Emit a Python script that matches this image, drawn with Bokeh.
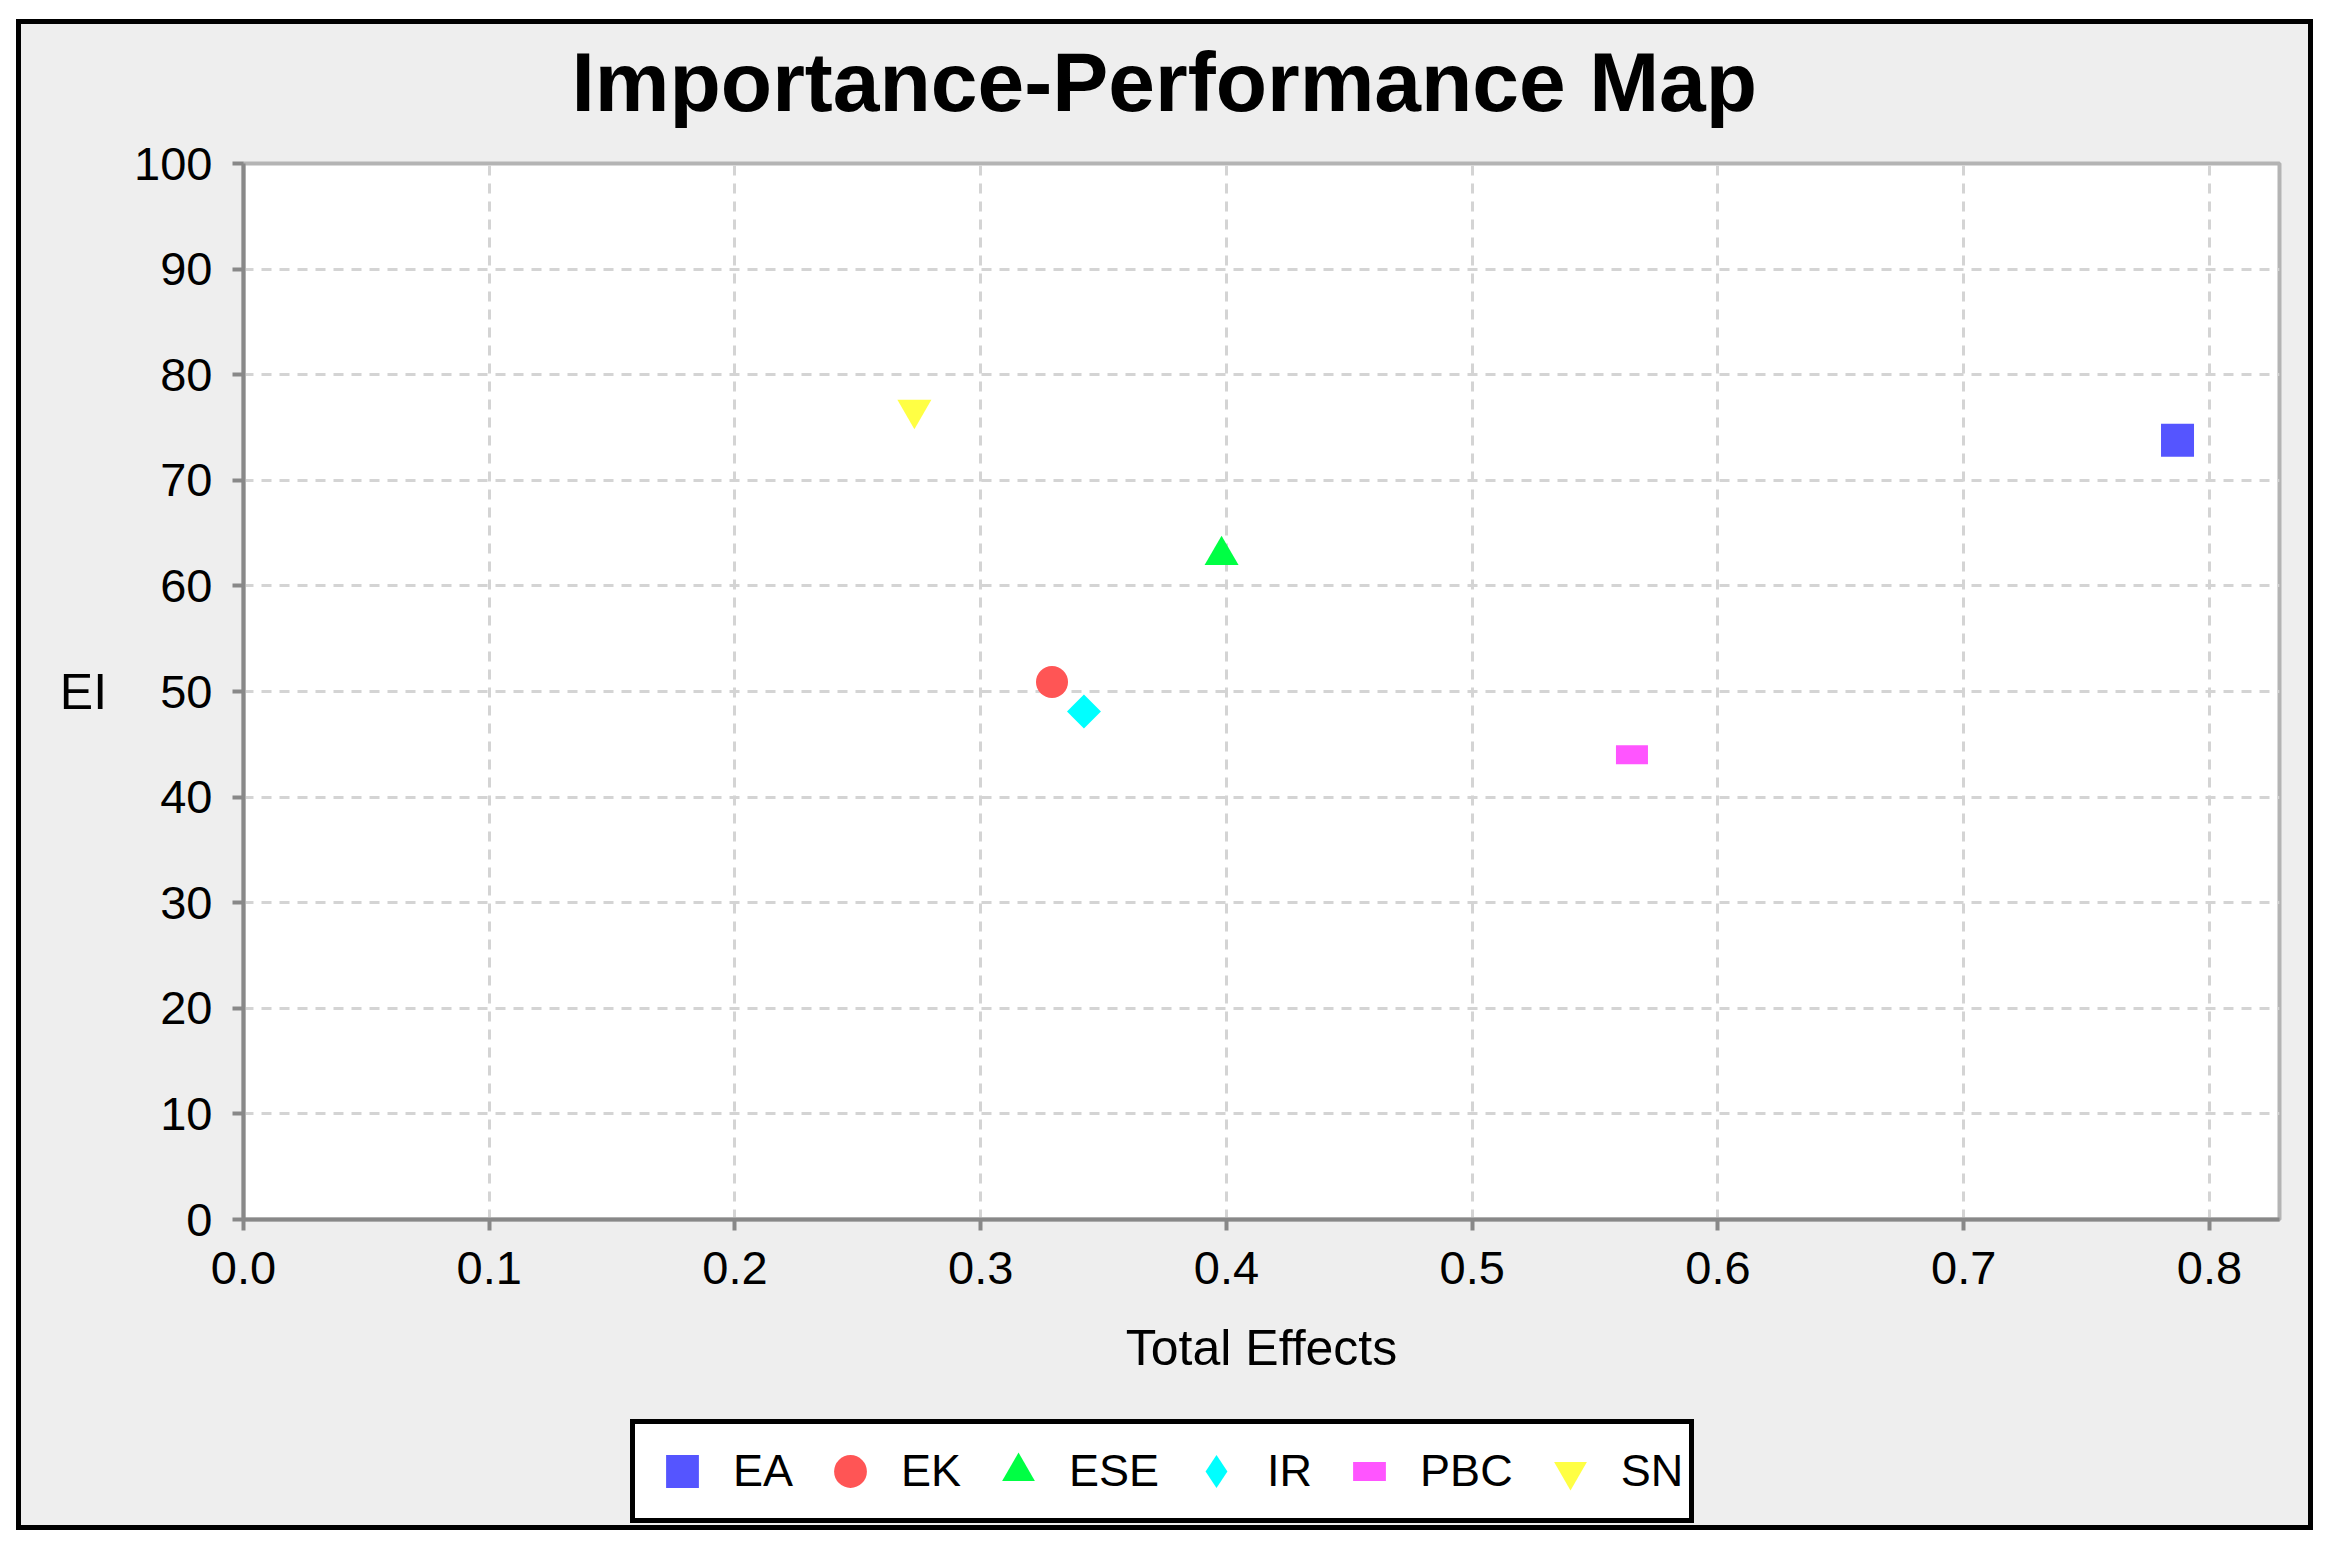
import math
from bokeh.plotting import figure
from bokeh.layouts import column
from bokeh.models import Range1d, FixedTicker, PrintfTickFormatter, Legend, LegendItem, Title
from bokeh.embed import file_html
from bokeh.resources import INLINE

# ---- data ----
categories = ["EA", "EK", "ESE", "IR", "PBC", "SN"]
total_effects = [0.787, 0.329, 0.398, 0.342, 0.565, 0.273]
performance = [73.8, 50.9, 62.9, 48.1, 44.0, 76.7]
x_ticks = [0.0, 0.1, 0.2, 0.3, 0.4, 0.5, 0.6, 0.7, 0.8]
y_ticks = [0, 10, 20, 30, 40, 50, 60, 70, 80, 90, 100]
title_text = "Importance-Performance Map"
x_label = "Total Effects"
y_label = "EI"

colors = ["#5555FF", "#FF5555", "#00FF44", "#00FFFF", "#FF55FF", "#FFFF44"]
FONT = "Liberation Sans"
BG = "#EEEEEE"
W = 2287
BL, BR = 222, 29
H_MAIN, H_LEG = 1385, 116

# ---------------- main chart ----------------
p = figure(width=W, height=H_MAIN, output_backend="svg", toolbar_location=None,
           x_range=Range1d(0, 0.8285), y_range=Range1d(0, 100),
           min_border_left=BL, min_border_right=BR, min_border_top=139,
           min_border_bottom=H_MAIN - 139 - 1056, title=None)
p.border_fill_color = BG
p.background_fill_color = "white"
p.outline_line_color = "#B4B4B4"
p.outline_line_width = 4

# spacer next to the frame, then the title above it
p.add_layout(Title(text=" ", text_font=FONT, text_font_size="30px", standoff=0), "above")
p.add_layout(Title(text=title_text, text_font=FONT, text_font_size="84px", text_font_style="bold",
                   text_color="black", align="left", offset=328, standoff=0), "above")

for ax in (p.xaxis[0], p.yaxis[0]):
    ax.axis_line_color = "#888888"
    ax.axis_line_width = 4
    ax.major_tick_line_color = "#888888"
    ax.major_tick_line_width = 4
    ax.major_tick_out = 11
    ax.major_tick_in = 0
    ax.minor_tick_line_color = None
    ax.major_label_text_font = FONT
    ax.major_label_text_font_size = "47px"
    ax.major_label_text_color = "black"
    ax.axis_label_text_font = FONT
    ax.axis_label_text_font_size = "50px"
    ax.axis_label_text_font_style = "normal"
    ax.axis_label_text_color = "black"

p.xaxis.ticker = FixedTicker(ticks=x_ticks)
p.yaxis.ticker = FixedTicker(ticks=y_ticks)
p.xaxis.formatter = PrintfTickFormatter(format="%.1f")
p.yaxis.formatter = PrintfTickFormatter(format="%d")
p.xaxis.major_label_standoff = 21
p.yaxis.major_label_standoff = 20
p.xaxis.axis_label = x_label
p.yaxis.axis_label = y_label
p.xaxis.axis_label_standoff = 33
p.yaxis.axis_label_standoff = 24
try:
    p.yaxis.axis_label_orientation = "horizontal"
except Exception:
    pass

for g in (p.xgrid[0], p.ygrid[0]):
    g.grid_line_color = "#D4D4D4"
    g.grid_line_width = 3
    g.grid_line_dash = "10 8"
p.xgrid.ticker = FixedTicker(ticks=x_ticks)
p.ygrid.ticker = FixedTicker(ticks=y_ticks)

def one(i):
    return dict(x=[total_effects[i]], y=[performance[i]])

p.scatter(marker="square", size=33, fill_color=colors[0], line_color=None, **one(0))
p.scatter(marker="circle", size=32, fill_color=colors[1], line_color=None, **one(1))
p.scatter(marker="triangle", size=34, fill_color=colors[2], line_color=None, **one(2))
p.scatter(marker="square", size=24, angle=math.pi / 4, fill_color=colors[3], line_color=None, **one(3))
p.scatter(marker="dash", size=32, line_width=19, line_color=colors[4], line_cap="butt", **one(4))
p.scatter(marker="inverted_triangle", size=34, fill_color=colors[5], line_color=None, **one(5))

# ---------------- legend strip ----------------
# same side borders as the chart; its series glyphs sit outside its (empty) y range
q = figure(width=W, height=H_LEG, output_backend="svg", toolbar_location=None,
           x_axis_location=None, y_axis_location=None,
           x_range=Range1d(0, 0.8285), y_range=Range1d(-200, -100),
           min_border_left=BL, min_border_right=BR, min_border_top=0, min_border_bottom=0)
q.grid.visible = False
q.border_fill_color = BG
q.background_fill_color = None
q.outline_line_color = None

leg_r = [
    q.scatter(marker="square", fill_color=colors[0], line_color=None, **one(0)),
    q.scatter(marker="circle", fill_color=colors[1], line_color=None, **one(1)),
    q.scatter(marker="triangle", fill_color=colors[2], line_color=None, **one(2)),
    q.scatter(marker="diamond", fill_color=colors[3], line_color=None, **one(3)),
    q.scatter(marker="dash", line_width=19, line_color=colors[4], line_cap="butt", **one(4)),
    q.scatter(marker="inverted_triangle", fill_color=colors[5], line_color=None, **one(5)),
]
legend = Legend(items=[LegendItem(label=c, renderers=[r]) for c, r in zip(categories, leg_r)],
                orientation="horizontal", location=(387, 2), click_policy="none")
legend.margin = 0
legend.padding = 6
legend.spacing = 16
legend.glyph_width = 82
legend.glyph_height = 82
legend.label_standoff = 10
legend.label_text_font = FONT
legend.label_text_font_size = "45px"
legend.label_text_color = "black"
legend.border_line_color = "black"
legend.border_line_alpha = 1.0
legend.border_line_width = 5
legend.background_fill_color = "white"
legend.background_fill_alpha = 1.0
q.add_layout(legend, "center")

layout = column(p, q, spacing=0)
layout.margin = (24, 0, 0, 21)
layout.styles = {"outline": "5px solid black", "background-color": BG}

open("out.html", "w").write(file_html(layout, INLINE))
